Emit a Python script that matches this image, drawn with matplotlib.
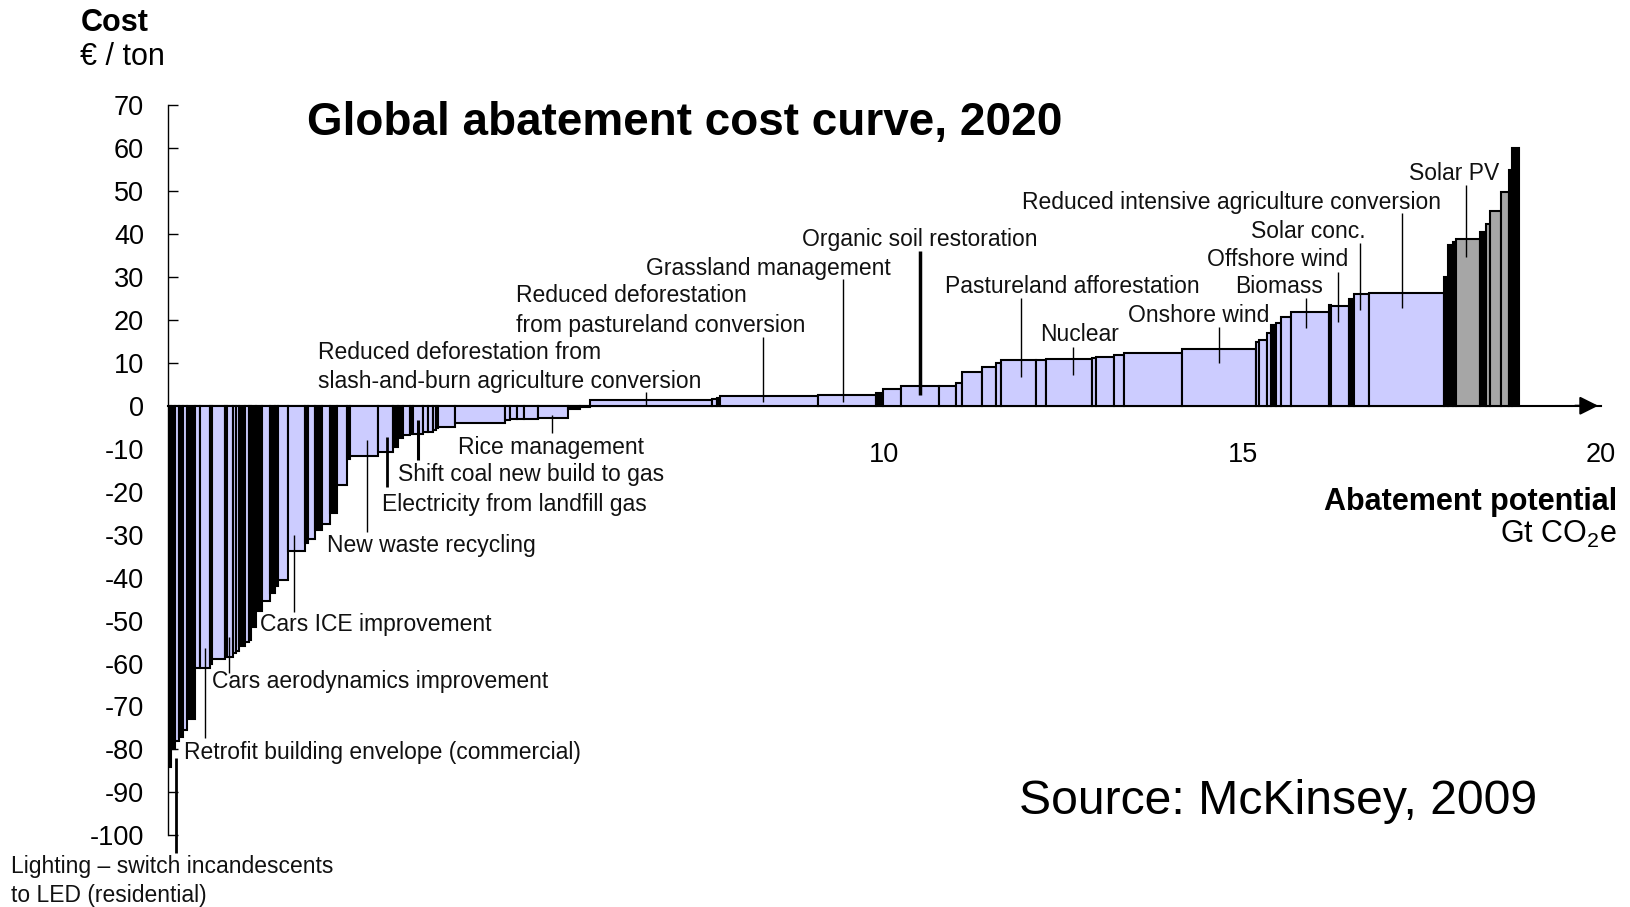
import numpy as np
import matplotlib
matplotlib.use('Agg')
import matplotlib.pyplot as plt

plt.rcParams['font.family'] = ['Liberation Sans', 'DejaVu Sans']
plt.rcParams['mathtext.fontset'] = 'custom'
plt.rcParams['mathtext.rm'] = 'Liberation Sans'
plt.rcParams['axes.unicode_minus'] = False

# Abatement potential of each lever (Gt CO2e), left to right
widths = [0.05, 0.055, 0.06, 0.047, 0.055, 0.117, 0.069, 0.14, 0.023, 0.186,
          0.023, 0.084, 0.046, 0.047, 0.079, 0.06, 0.019, 0.08, 0.074, 0.116,
          0.07, 0.046, 0.139, 0.233, 0.042, 0.10, 0.09, 0.12, 0.09, 0.14,
          0.045, 0.395, 0.21, 0.07, 0.07, 0.09, 0.04, 0.14, 0.07, 0.07,
          0.05, 0.03, 0.23, 0.70, 0.07, 0.10, 0.10, 0.19, 0.42, 0.16,
          0.14, 1.70, 0.07, 0.05, 1.37, 0.81, 0.09, 0.26, 0.53, 0.23,
          0.08, 0.28, 0.20, 0.07, 0.49, 0.14, 0.64, 0.06, 0.24, 0.15,
          0.81, 1.03, 0.04, 0.11, 0.06, 0.07, 0.06, 0.14, 0.54, 0.03,
          0.25, 0.06, 0.22, 1.04, 0.06, 0.06, 0.05, 0.33, 0.08, 0.06,
          0.16, 0.10, 0.05, 0.09]

# Cost of each lever (EUR / ton)
costs = [-84, -80, -78, -77, -75.5, -73, -61, -61, -60, -59,
         -58.5, -58.5, -57.5, -57, -56, -55, -54.5, -51.5, -47.7, -45.5,
         -43.5, -42, -40.5, -33.8, -32, -31, -29, -27.5, -25, -18.4,
         -12.5, -11.8, -10.8, -9.5, -7.5, -6.8, -6.6, -6.5, -6.2, -6.0,
         -5.6, -5.2, -5.0, -4.1, -3.4, -3.1, -3.0, -3.1, -2.9, -0.8,
         -0.3, 1.3, 1.5, 1.7, 2.25, 2.5, 3.0, 3.8, 4.6, 4.5,
         5.3, 7.9, 9.0, 10.0, 10.6, 10.6, 10.9, 11.1, 11.3, 11.8,
         12.3, 13.3, 14.8, 15.4, 17.0, 18.9, 19.3, 20.7, 21.8, 23.5,
         23.1, 24.8, 25.9, 26.3, 30, 37.3, 38.1, 38.8, 40.4, 42.3,
         45.4, 49.7, 54.8, 60.1]

# L = light lever, k = dark lever, G = grey lever
kinds = ("kkLkLkLLkL" "kLLLkLkkkL" "kkLLkLkLkL" "kLLkkLkLLL" "LkLLLLLLLk"
         "kLLkLLkLLL" "LLLLLLLLLL" "LLLLLkLLLk" "LkLLkkkGkG" "GGkk")

# labelled levers: text, text x, text y, pointer x, pointer y from, pointer y to, line width
labels = [
    ("Reduced deforestation from\nslash-and-burn agriculture conversion", 2.10, 9.0, 6.67, 0.2, 3.3, 1.0),
    ("Reduced deforestation\nfrom pastureland conversion", 4.86, 22.2, 8.31, 0.9, 16, 1.0),
    ("Grassland management", 6.67, 32.0, 9.42, 0.9, 29.5, 1.0),
    ("Organic soil restoration", 8.85, 38.6, 10.50, 2.5, 36.1, 2.5),
    ("Pastureland afforestation", 10.85, 27.7, 11.91, 6.8, 25, 1.0),
    ("Nuclear", 12.17, 16.5, 12.64, 7.1, 13.6, 1.0),
    ("Onshore wind", 13.40, 21.1, 14.67, 9.9, 18.4, 1.0),
    ("Biomass", 14.90, 27.7, 15.89, 18, 25, 1.0),
    ("Offshore wind", 14.51, 34.0, 16.33, 19.6, 31.2, 1.0),
    ("Solar conc.", 15.12, 40.5, 16.64, 22.3, 37.9, 1.0),
    ("Reduced intensive agriculture conversion", 11.92, 47.3, 17.23, 22.7, 44.8, 1.0),
    ("Solar PV", 17.32, 54.1, 18.12, 34.7, 51.4, 1.0),
    ("Rice management", 4.05, -9.8, 5.37, -6.4, -2.2, 1.0),
    ("Shift coal new build to gas", 3.22, -16.1, 3.50, -12.6, -3.3, 2.2),
    ("Electricity from landfill gas", 2.99, -22.9, 3.06, -18.8, -7.2, 2.0),
    ("New waste recycling", 2.22, -32.6, 2.79, -29.3, -8, 1.0),
    ("Cars ICE improvement", 1.29, -51.0, 1.764, -47.9, -30.1, 1.0),
    ("Cars aerodynamics improvement", 0.62, -64.3, 0.862, -62.3, -53.8, 1.0),
    ("Retrofit building envelope (commercial)", 0.23, -80.8, 0.523, -77.4, -56.4, 1.0),
    ("Lighting \u2013 switch incandescents\nto LED (residential)", -2.19, -110.7, 0.125, -104, -82, 2.0),
]

colour_map = {'L': '#ccccff', 'k': 'black', 'G': '#a6a6a6'}
lefts = np.concatenate([[0], np.cumsum(widths)[:-1]])

fig = plt.figure(figsize=(16.31, 9.07), dpi=100)
ax = fig.add_axes([0.1027, 0.0316, 0.8789, 0.9])

ax.bar(lefts, costs, width=widths, align='edge',
       color=[colour_map[c] for c in kinds], edgecolor='black', linewidth=1.5, zorder=3)

for text, tx, ty, px, y0, y1, lw in labels:
    ax.plot([px, px], [y0, y1], color='black', lw=lw, zorder=4, clip_on=False,
            solid_capstyle='butt')
    ax.text(tx, ty, text, fontsize=16.5, ha='left', va='center', linespacing=1.35,
            color='#111111')

ax.set_xlim(0, 20)
ax.set_ylim(-110, 80)
ax.spines['top'].set_visible(False)
ax.spines['right'].set_visible(False)
ax.spines['left'].set_bounds(-100, 70)
ax.spines['left'].set_linewidth(1.0)
ax.spines['bottom'].set_position(('data', 0))
ax.spines['bottom'].set_linewidth(1.5)
ax.set_yticks(np.arange(-100, 71, 10))
ax.tick_params(axis='y', direction='in', length=7, width=1, labelsize=19.5, pad=17)
ax.set_xticks([10, 15, 20])
ax.tick_params(axis='x', length=0, labelsize=19.5, pad=26)
ax.annotate('', xy=(20, 0), xytext=(19.6, 0),
            arrowprops=dict(arrowstyle='-|>', color='black', lw=1.5, mutation_scale=28))

fig.text(0.188, 0.864, 'Global abatement cost curve, 2020', fontsize=33,
         fontweight='bold', va='center', ha='left')
fig.text(0.625, 0.1158, 'Source: McKinsey, 2009', fontsize=34.7, va='center', ha='left')
fig.text(0.0497, 0.975, 'Cost', fontsize=22, fontweight='bold', va='center', ha='left')
fig.text(0.049, 0.937, '\u20ac / ton', fontsize=22, va='center', ha='left')
fig.text(0.9917, 0.4464, 'Abatement potential', fontsize=22, fontweight='bold',
         va='center', ha='right')
fig.text(0.9917, 0.4108, r'Gt CO$_\mathrm{2}$e', fontsize=22, va='center', ha='right')

fig.savefig('out.png', dpi=100)
